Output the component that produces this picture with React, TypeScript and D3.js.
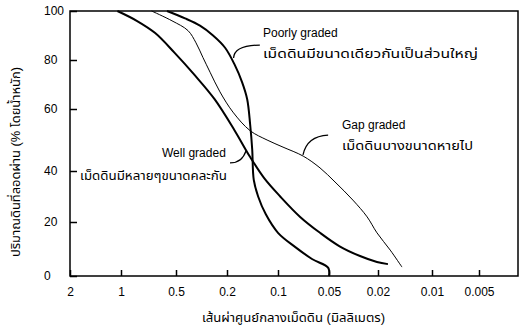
import React, { useEffect, useRef } from 'react';
import * as d3 from 'd3';

// axis ticks (grain size in mm, reversed, and percent passing)
const xTickValues = [2, 1, 0.5, 0.2, 0.1, 0.05, 0.02, 0.01, 0.005];
const xTickLabels = ['2', '1', '0.5', '0.2', '0.1', '0.05', '0.02', '0.01', '0.005'];
const yTickValues = [0, 20, 40, 60, 80, 100];

// Poorly graded
const poorlySize = [0.56, 0.425, 0.325, 0.257, 0.207, 0.18, 0.163, 0.152, 0.146, 0.142, 0.139, 0.131, 0.118, 0.1, 0.079, 0.063, 0.0505, 0.05];
const poorlyPass = [100, 97, 94, 90, 85, 78, 71, 64, 55, 47, 36.5, 30, 23, 16, 10.7, 6.3, 3, 0];

// Well graded
const wellSize = [1.05, 0.82, 0.65, 0.51, 0.36, 0.25, 0.18, 0.146, 0.12, 0.097, 0.074, 0.0565, 0.041, 0.028, 0.0204, 0.0176];
const wellPass = [100, 96, 91, 83, 74, 64, 53, 44.5, 37, 30, 22, 16, 11, 7.4, 5.2, 4.4];

// Gap graded
const gapSize = [0.68, 0.526, 0.403, 0.349, 0.308, 0.271, 0.227, 0.1845, 0.146, 0.116, 0.0934, 0.071, 0.0565, 0.0447, 0.032, 0.0245, 0.0204, 0.0171, 0.0147];
const gapPass = [100, 96, 92, 87, 81, 75, 67, 59, 53, 50, 47.7, 44.8, 41, 35.7, 28.6, 22, 16, 9.6, 3.3];

// leader lines: start, bend, end (size, percent)
const poorlyLeader = [[0.128, 86.1], [0.181, 86], [0.183, 80.8]];
const wellLeader = [[0.192, 42.6], [0.163, 42.6], [0.1545, 46.5]];
const gapLeader = [[0.0506, 51.6], [0.0675, 51.3], [0.0712, 45.2]];

const W = 520;
const H = 331;
const FONT = "'Liberation Sans', Arial, 'Noto Sans Thai', 'Noto Sans', sans-serif";

const App: React.FC = () => {
  const svgRef = useRef<SVGSVGElement | null>(null);

  useEffect(() => {
    if (!svgRef.current) return;
    const svg = d3.select(svgRef.current);
    svg.selectAll('*').remove();

    // the scanned axis is not quite logarithmic, so map each tick piecewise
    const x = d3.scaleLog().domain(xTickValues).range([70, 121, 176, 227, 278, 329, 378, 432, 479]);
    const y = d3.scaleLinear().domain(yTickValues).range([276, 222, 171, 109, 60, 11]);
    const plotRight = 518;

    // frame
    svg.append('rect')
      .attr('x', x(2))
      .attr('y', y(100))
      .attr('width', plotRight - x(2))
      .attr('height', y(0) - y(100))
      .attr('fill', 'none')
      .attr('stroke', '#000')
      .attr('stroke-width', 1.5);

    // x axis
    svg.append('g')
      .attr('transform', `translate(0,${y(0)})`)
      .call(d3.axisBottom(x)
        .tickValues(xTickValues)
        .tickFormat((_, i) => xTickLabels[i])
        .tickSize(-6)
        .tickSizeOuter(0)
        .tickPadding(11))
      .call(g => g.select('.domain').remove())
      .call(g => g.selectAll('line').attr('stroke-width', 1.5))
      .attr('font-family', FONT)
      .attr('font-size', 12);

    // y axis
    svg.append('g')
      .attr('transform', `translate(${x(2)},0)`)
      .call(d3.axisLeft(y)
        .tickValues(yTickValues)
        .tickSize(-7)
        .tickSizeOuter(0))
      .call(g => g.select('.domain').remove())
      .call(g => g.selectAll('line').attr('stroke-width', 1.5))
      .call(g => g.selectAll('text').attr('x', -26).attr('text-anchor', 'start'))
      .attr('font-family', FONT)
      .attr('font-size', 12);

    // curves
    const line = d3.line<number[]>()
      .x(d => x(d[0]))
      .y(d => y(d[1]))
      .curve(d3.curveCatmullRom.alpha(0.5));

    const curves = [
      { pts: d3.zip(poorlySize, poorlyPass), w: 2 },
      { pts: d3.zip(wellSize, wellPass), w: 2 },
      { pts: d3.zip(gapSize, gapPass), w: 1 },
    ];
    svg.selectAll('.curve')
      .data(curves)
      .enter()
      .append('path')
      .attr('class', 'curve')
      .attr('d', d => line(d.pts))
      .attr('fill', 'none')
      .attr('stroke', '#000')
      .attr('stroke-width', d => d.w);

    // leader lines
    const leader = (p: number[][]) =>
      `M${x(p[0][0])},${y(p[0][1])}Q${x(p[1][0])},${y(p[1][1])} ${x(p[2][0])},${y(p[2][1])}`;
    svg.selectAll('.leader')
      .data([poorlyLeader, wellLeader, gapLeader])
      .enter()
      .append('path')
      .attr('class', 'leader')
      .attr('d', d => leader(d))
      .attr('fill', 'none')
      .attr('stroke', '#000')
      .attr('stroke-width', 1.3);

    // labels (Thai lines are stretched to the width of the wider scanned face)
    const labels = [
      { t: 'Poorly graded', x: 263, y: 37, len: 0 },
      { t: 'เม็ดดินมีขนาดเดียวกันเป็นส่วนใหญ่', x: 263, y: 58, len: 215 },
      { t: 'Gap graded', x: 342, y: 129, len: 0 },
      { t: 'เม็ดดินบางขนาดหายไป', x: 342, y: 150, len: 131 },
      { t: 'Well graded', x: 162, y: 157, len: 0 },
      { t: 'เม็ดดินมีหลายๆขนาดคละกัน', x: 80, y: 180, len: 147 },
    ];
    const txt = svg.selectAll('.label')
      .data(labels)
      .enter()
      .append('text')
      .attr('class', 'label')
      .attr('x', d => d.x)
      .attr('y', d => d.y)
      .attr('font-family', FONT)
      .attr('font-size', d => (d.len ? 13 : 12))
      .text(d => d.t);
    txt.filter(d => d.len > 0)
      .attr('textLength', d => d.len)
      .attr('lengthAdjust', 'spacingAndGlyphs');

    // axis titles
    svg.append('text')
      .attr('x', 202)
      .attr('y', 322)
      .attr('textLength', 183)
      .attr('lengthAdjust', 'spacingAndGlyphs')
      .attr('font-family', FONT)
      .attr('font-size', 13)
      .text('เส้นผ่าศูนย์กลางเม็ดดิน (มิลลิเมตร)');

    svg.append('text')
      .attr('transform', 'translate(20,257) rotate(-90)')
      .attr('textLength', 190)
      .attr('lengthAdjust', 'spacingAndGlyphs')
      .attr('font-family', FONT)
      .attr('font-size', 13)
      .text('ปริมาณดินที่ลอดผ่าน (% โดยน้ำหนัก)');
  }, []);

  return (
    <svg
      ref={svgRef}
      width={W}
      height={H}
      style={{ position: 'absolute', left: 0, top: 0, background: '#fff' }}
    />
  );
};

export default App;
